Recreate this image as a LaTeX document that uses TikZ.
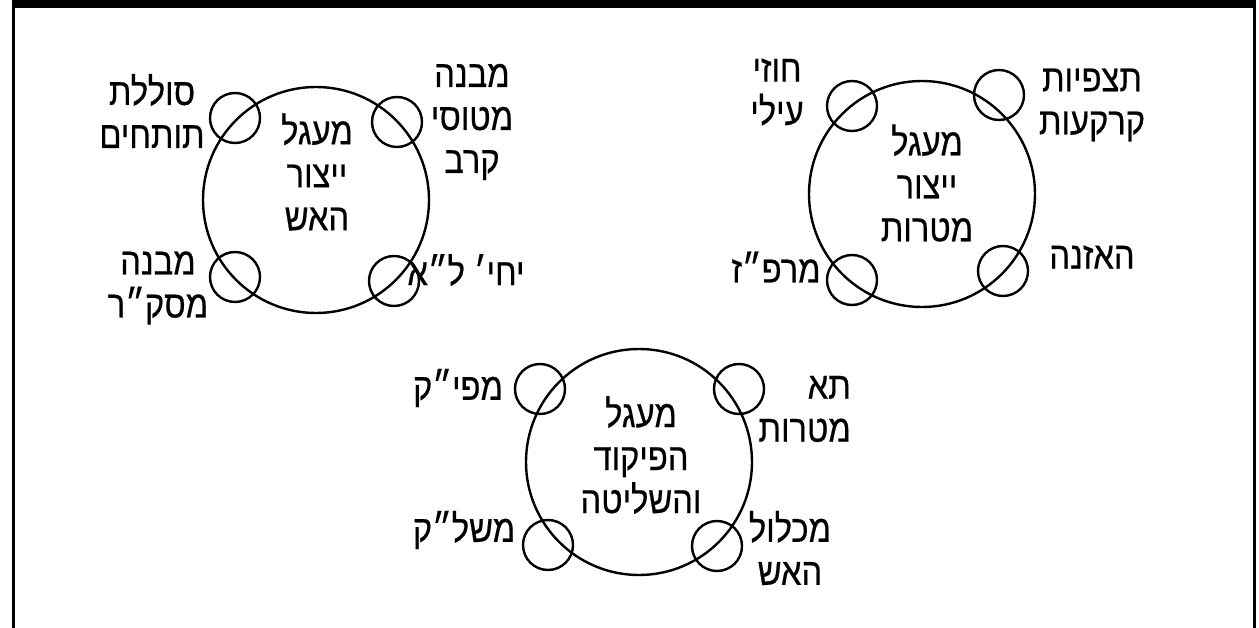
\documentclass[tikz,border=0pt]{standalone}
\usepackage{fontspec}
\newfontfamily\hebfont[Script=Hebrew,FakeStretch=0.86,FakeBold=0.5]{Liberation Sans}
\TeXXeTstate=1
\newcommand\hebln[1]{\beginR #1\endR}
\begin{document}
\begin{tikzpicture}[x=1pt,y=-1pt,
  big/.style={circle,draw,line width=2.4pt,minimum size=226pt,inner sep=0pt},
  small/.style={circle,draw,line width=2.4pt,minimum size=50pt,inner sep=0pt},
  lbl/.style={font=\hebfont\fontsize{38}{43}\selectfont,align=center,inner sep=0pt}]
\useasboundingbox (0,0) rectangle (1259,628);
\fill (12,0) rectangle (1256,8);
\draw[line width=3pt] (13.5,0) -- (13.5,628);
\draw[line width=3pt] (1254.5,0) -- (1254.5,628);

% left circle
\node[big] (c1) at (316,200) {};
\node[small] (c1tl) at (235,118) {};
\node[small] (c1tr) at (397,122) {};
\node[small] (c1bl) at (235,277) {};
\node[small] (c1br) at (394,281) {};
\node[lbl] (t1) at (317,172) {\hebln{מעגל}\\\hebln{ייצור}\\\hebln{האש}};
\node[lbl] (l1a) at (152,111) {\hebln{סוללת}\\\hebln{תותחים}};
\node[lbl] (l1b) at (472,122) {\hebln{מבנה}\\\hebln{מטוסי}\\\hebln{קרב}};
\node[lbl] (l1c) at (466,270) {\hebln{יחי׳ ל״א}};
\node[lbl] (l1d) at (158,288) {\hebln{מבנה}\\\hebln{מסק״ר}};

% right circle
\node[big] (c2) at (922,194) {};
\node[small] (c2tl) at (852,106) {};
\node[small] (c2tr) at (999,95) {};
\node[small] (c2bl) at (852,280) {};
\node[small] (c2br) at (1003,271) {};
\node[lbl] (t2) at (927,183) {\hebln{מעגל}\\\hebln{ייצור}\\\hebln{מטרות}};
\node[lbl] (l2a) at (777,92) {\hebln{חוזי}\\\hebln{עילי}};
\node[lbl] (l2b) at (1092,105) {\hebln{תצפיות}\\\hebln{קרקעות}};
\node[lbl] (l2c) at (776,267) {\hebln{מרפ״ז}};
\node[lbl] (l2d) at (1092,257) {\hebln{האזנה}};

% bottom circle
\node[big] (c3) at (639,462) {};
\node[small] (c3tl) at (540,389) {};
\node[small] (c3tr) at (739,389) {};
\node[small] (c3bl) at (548,545) {};
\node[small] (c3br) at (717,546) {};
\node[lbl] (t3) at (641,455) {\hebln{מעגל}\\\hebln{הפיקוד}\\\hebln{והשליטה}};
\node[lbl] (l3a) at (458,388) {\hebln{מפי״ק}};
\node[lbl,align=right,anchor=east] (l3b) at (851,409) {\hebln{תא}\\\hebln{מטרות}};
\node[lbl] (l3c) at (464,530) {\hebln{משל״ק}};
\node[lbl] (l3d) at (790,548) {\hebln{מכלול}\\\hebln{האש}};
\end{tikzpicture}
\end{document}
